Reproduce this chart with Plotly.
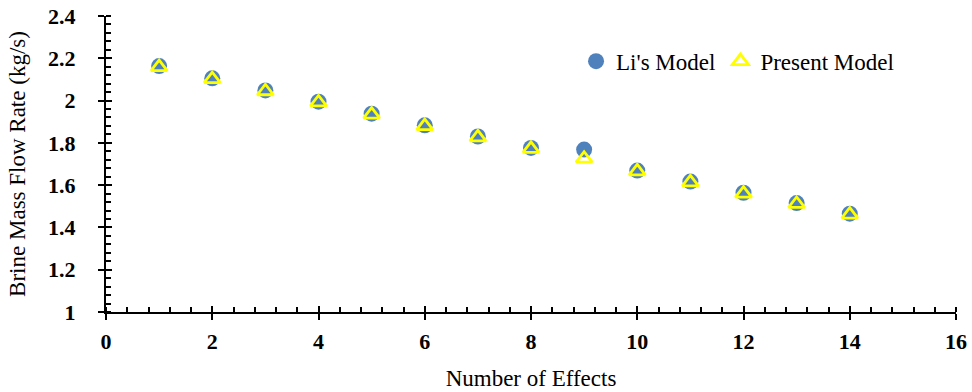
import plotly.graph_objects as go

effects = [1, 2, 3, 4, 5, 6, 7, 8, 9, 10, 11, 12, 13, 14]
li_model = [2.163, 2.105, 2.048, 1.995, 1.938, 1.883, 1.830, 1.776, 1.768, 1.669, 1.617, 1.564, 1.515, 1.465]
present_model = [2.158, 2.101, 2.044, 1.991, 1.934, 1.879, 1.826, 1.772, 1.725, 1.665, 1.613, 1.560, 1.511, 1.461]

x_ticks = [0, 2, 4, 6, 8, 10, 12, 14, 16]
y_ticks = [1, 1.2, 1.4, 1.6, 1.8, 2, 2.2, 2.4]
y_labels = ["1", "1.2", "1.4", "1.6", "1.8", "2", "2.2", "2.4"]

FONT = "Liberation Serif, Times New Roman, serif"

fig = go.Figure()
fig.add_trace(go.Scatter(
    x=effects, y=li_model, mode="markers", name="Li's Model",
    marker=dict(symbol="circle", size=16, color="#4F81BD"),
))
fig.add_trace(go.Scatter(
    x=effects, y=present_model, mode="markers", name="Present Model",
    marker=dict(symbol="triangle-up-open", size=14, color="#FFFF00",
                line=dict(width=2.8, color="#FFFF00")),
))

fig.update_layout(
    width=972, height=392,
    margin=dict(l=106, r=16, t=16, b=80),
    paper_bgcolor="white", plot_bgcolor="white",
    font=dict(family=FONT, color="black"),
    showlegend=True,
    legend=dict(orientation="h", x=0.553, y=0.92, xanchor="left", yanchor="top",
                font=dict(size=23, family=FONT), bgcolor="rgba(0,0,0,0)",
                itemwidth=30, tracegroupgap=0),
    xaxis=dict(
        range=[0, 16], tickvals=x_ticks, ticktext=[str(v) for v in x_ticks],
        showgrid=False, zeroline=False, showline=True, linecolor="black", linewidth=2,
        ticks="outside", ticklen=6, tickwidth=2, tickcolor="black",
        minor=dict(dtick=0.4, ticks="inside", ticklen=5, tickwidth=2, tickcolor="black", showgrid=False),
        tickfont=dict(size=22, family=FONT, weight="bold"), ticklabelstandoff=3,
        title=dict(text="Number of Effects", font=dict(size=23, family=FONT), standoff=16),
        automargin=False,
    ),
    yaxis=dict(
        range=[1, 2.4], tickvals=y_ticks, ticktext=y_labels,
        showgrid=False, zeroline=False, showline=True, linecolor="black", linewidth=2,
        ticks="outside", ticklen=6, tickwidth=2, tickcolor="black",
        minor=dict(dtick=0.04, ticks="inside", ticklen=5, tickwidth=2, tickcolor="black", showgrid=False),
        tickfont=dict(size=22, family=FONT, weight="bold"), ticklabelstandoff=18,
        title=dict(text="Brine Mass Flow Rate (kg/s)", font=dict(size=23, family=FONT), standoff=16),
        automargin=False,
    ),
    xaxis2=dict(range=[0, 16], overlaying="x", tickvals=x_ticks, showticklabels=False,
                ticks="inside", ticklen=6, tickwidth=2, tickcolor="black",
                showgrid=False, zeroline=False, showline=False, side="bottom", automargin=False),
    yaxis2=dict(range=[1, 2.4], overlaying="y", tickvals=y_ticks, showticklabels=False,
                ticks="inside", ticklen=6, tickwidth=2, tickcolor="black",
                showgrid=False, zeroline=False, showline=False, side="left", automargin=False),
)
fig.add_trace(go.Scatter(x=[None], y=[None], xaxis="x2", yaxis="y2", showlegend=False, hoverinfo="skip"))

fig.write_html("out.html")
